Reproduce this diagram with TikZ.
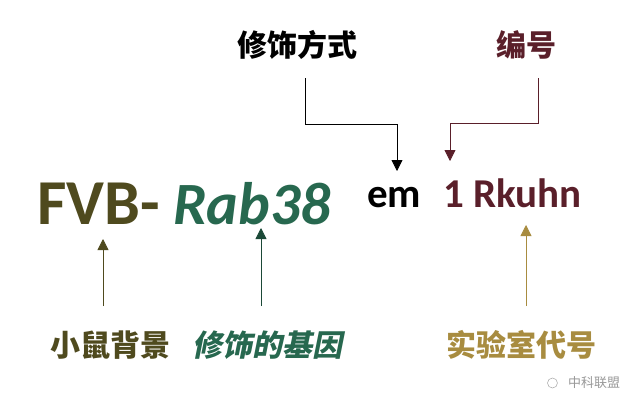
\documentclass[tikz,border=0pt]{standalone}
\usepackage{fontspec}
\setmainfont{Carlito}
\newfontfamily\cjk{Noto Sans CJK SC}
\usetikzlibrary{arrows.meta}
\definecolor{olv}{HTML}{4F4A1E}
\definecolor{grn}{HTML}{27684F}
\definecolor{drd}{HTML}{5A1F2A}
\definecolor{gld}{HTML}{A88C40}
\begin{document}
\begin{tikzpicture}[x=1pt,y=-1pt,
  big/.style={font=\fontsize{64}{68}\selectfont\bfseries, inner sep=0pt, anchor=base west},
  mid/.style={font=\fontsize{41}{44}\selectfont\bfseries, inner sep=0pt, anchor=base west},
  lab/.style={font=\cjk\fontsize{30}{34}\selectfont\bfseries, inner sep=0pt},
  arr/.style={line width=0.8pt, -{Triangle[width=11pt,length=11pt]}}]
\useasboundingbox (0,0) rectangle (640,408);
\fill[white] (0,0) rectangle (640,408);
\node[lab] (fs) at (297,45) {修饰方式};
\node[lab, text=drd] (bh) at (526,45) {编号};
\node[big, text=olv] (fvb) at (37,224) {FVB-};
\node[big, text=grn, font=\fontsize{60}{64}\selectfont\bfseries] (rab) at (173,224) {\itshape Rab38};
\node[mid] (em) at (367,207) {em};
\node[mid, text=drd] (rk) at (443,207) {1 Rkuhn};
\node[lab, text=olv] (l1) at (110,345) {小鼠背景};
\node[lab, text=grn, xslant=0.2] (l2) at (270,345) {修饰的基因};
\node[lab, text=gld] (l3) at (521,345) {实验室代号};
\node[font=\cjk\fontsize{13}{14}\selectfont, text=gray!80] (wm) at (594,383) {中科联盟};
\draw[gray!70, line width=0.5pt] (wm.west) ++(-12,0) circle (5);
\coordinate (a1) at (305,78); \coordinate (a2) at (397,171);
\draw[arr] (a1) |- (397,124) -- (a2);
\coordinate (b1) at (538,78); \coordinate (b2) at (450,161);
\draw[arr, drd] (b1) |- (450,123) -- (b2);
\coordinate (c1) at (103,306); \coordinate (c2) at (103,239);
\draw[arr, olv] (c1) -- (c2);
\coordinate (d1) at (261,306); \coordinate (d2) at (261,228);
\draw[arr, grn!70!black] (d1) -- (d2);
\coordinate (e1) at (526,306); \coordinate (e2) at (526,225);
\draw[arr, gld] (e1) -- (e2);
\end{tikzpicture}
\end{document}
